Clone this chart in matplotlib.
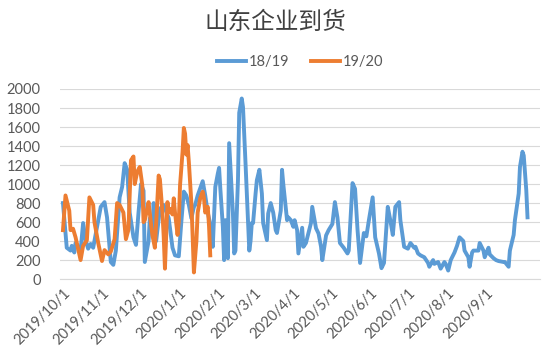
import numpy as np
import pandas as pd
import matplotlib
matplotlib.use("Agg")
import matplotlib.pyplot as plt
import matplotlib.dates as mdates

plt.rcParams['font.family'] = ['Lato', 'Noto Sans CJK SC', 'DejaVu Sans']

start = pd.Timestamp("2019-10-01")

# 18/19 season (days after 2019/10/1, arrivals)
days_1819 = [0, 2, 3, 6, 7, 9, 10, 14, 16, 18, 20, 22, 24, 28, 30, 33, 35, 37, 38, 40,
             42, 45, 47, 49, 51, 53, 56, 58, 60, 62, 64, 65, 68, 69, 71, 72, 74, 77, 80, 84,
             87, 89, 92, 94, 96, 98, 100, 102, 104, 105, 107, 111, 113, 115, 118, 119, 121, 123, 124, 125,
             127, 128, 129, 131, 132, 135, 136, 137, 139, 140, 142, 143, 145, 147, 148, 149, 150, 151, 153, 154,
             156, 158, 159, 162, 163, 165, 167, 169, 170, 173, 174, 175, 178, 179, 181, 183, 184, 186, 187, 190,
             191, 193, 197, 198, 201, 203, 205, 206, 209, 211, 214, 216, 218, 220, 223, 226, 227, 230, 232, 234,
             236, 239, 241, 243, 246, 248, 251, 253, 255, 258, 260, 262, 264, 267, 268, 271, 274, 276, 279, 280,
             282, 284, 287, 290, 291, 294, 295, 298, 300, 303, 304, 306, 308, 311, 313, 315, 318, 319, 322, 323,
             325, 326, 330, 331, 334, 335, 338, 339, 342, 344, 346, 350, 351, 354, 355, 358, 359, 362, 363, 365,
             366, 368, 369]
vals_1819 = [800, 480, 330, 300, 350, 280, 380, 300, 590, 410, 320, 370, 330, 620, 760, 810, 650, 330, 180, 150,
             300, 860, 970, 1220, 1150, 700, 440, 360, 700, 1000, 930, 180, 400, 640, 500, 800, 400, 740, 780, 640,
             330, 250, 240, 600, 920, 880, 780, 640, 760, 780, 880, 1030, 880, 700, 520, 340, 970, 1110, 1170, 950,
             550, 200, 620, 220, 1430, 690, 270, 300, 1040, 1750, 1900, 1810, 1220, 600, 300, 400, 590, 590, 900, 1040,
             1150, 900, 590, 410, 690, 800, 700, 515, 485, 720, 1150, 1000, 620, 650, 620, 550, 620, 515, 270, 540,
             340, 380, 590, 760, 535, 480, 340, 200, 460, 515, 580, 810, 650, 380, 330, 270, 300, 1010, 950, 515,
             170, 485, 450, 620, 860, 440, 270, 115, 170, 760, 620, 465, 760, 810, 620, 340, 320, 380, 330, 340,
             270, 250, 230, 170, 130, 200, 160, 180, 110, 180, 160, 90, 200, 280, 350, 440, 400, 300, 230, 130,
             280, 300, 300, 380, 300, 230, 330, 260, 220, 200, 190, 180, 180, 130, 300, 465, 620, 900, 1180, 1340,
             1300, 940, 650]

# 19/20 season
days_1920 = [0, 2, 5, 6, 8, 10, 11, 14, 16, 19, 21, 24, 25, 28, 31, 33, 36, 38, 41, 43,
             45, 48, 50, 52, 54, 56, 57, 59, 61, 63, 64, 65, 68, 69, 71, 73, 76, 77, 79, 80,
             81, 83, 84, 85, 87, 88, 89, 91, 92, 93, 95, 96, 97, 98, 99, 100, 102, 103, 104, 106,
             107, 109, 111, 112, 113, 115, 116, 117]
vals_1920 = [515, 880, 720, 515, 530, 440, 380, 200, 350, 410, 860, 780, 600, 380, 190, 305, 260, 290, 420, 800,
             780, 700, 420, 520, 1250, 1290, 1000, 1130, 1180, 990, 600, 620, 810, 690, 465, 330, 1090, 1050, 700, 450,
             110, 810, 700, 740, 680, 850, 700, 465, 600, 990, 1340, 1590, 1530, 1310, 1410, 1230, 800, 450, 70, 400,
             700, 850, 920, 850, 700, 760, 560, 250]

ticks = pd.date_range("2019-10-01", "2020-09-01", freq="MS")

x1 = start + pd.to_timedelta(days_1819, unit="D")
x2 = start + pd.to_timedelta(days_1920, unit="D")

fig = plt.figure(figsize=(5.5, 3.56), dpi=100)
ax = fig.add_axes([0.109, 0.216, 0.873, 0.534])

ax.plot(x1, vals_1819, color="#5B9BD5", lw=2.8, label="18/19", solid_joinstyle="round")
ax.plot(x2, vals_1920, color="#ED7D31", lw=2.8, label="19/20", solid_joinstyle="round")

ax.set_ylim(0, 2000)
ax.set_yticks(np.arange(0, 2001, 200))
ax.set_xlim(start - pd.Timedelta(days=2.4), start + pd.Timedelta(days=379))
ax.set_xticks(ticks)
ax.xaxis.set_major_formatter(mdates.DateFormatter("%Y/%-m/%-d"))
ax.grid(axis="y", color="#D9D9D9", lw=0.8)
ax.set_axisbelow(True)
for s in ["top", "right", "left"]:
    ax.spines[s].set_visible(False)
ax.spines["bottom"].set_color("#D9D9D9")
ax.tick_params(axis="both", length=0, colors="#595959", labelsize=10.5)
ax.tick_params(axis="y", pad=14)
ax.tick_params(axis="x", pad=5)
plt.setp(ax.get_xticklabels(), rotation=45, ha="right", rotation_mode="anchor")

fig.text(0.5, 0.938, "山东企业到货", ha="center", va="center", fontsize=17,
         color="#404040", family=["Noto Sans CJK SC", "DejaVu Sans"])
ax.legend(loc="center", bbox_to_anchor=(0.5, 1.14), ncol=2, frameon=False,
          fontsize=10.5, handlelength=2.0, handletextpad=0.2, columnspacing=1.5,
          labelcolor="#595959")

fig.savefig("out.png", dpi=100)
